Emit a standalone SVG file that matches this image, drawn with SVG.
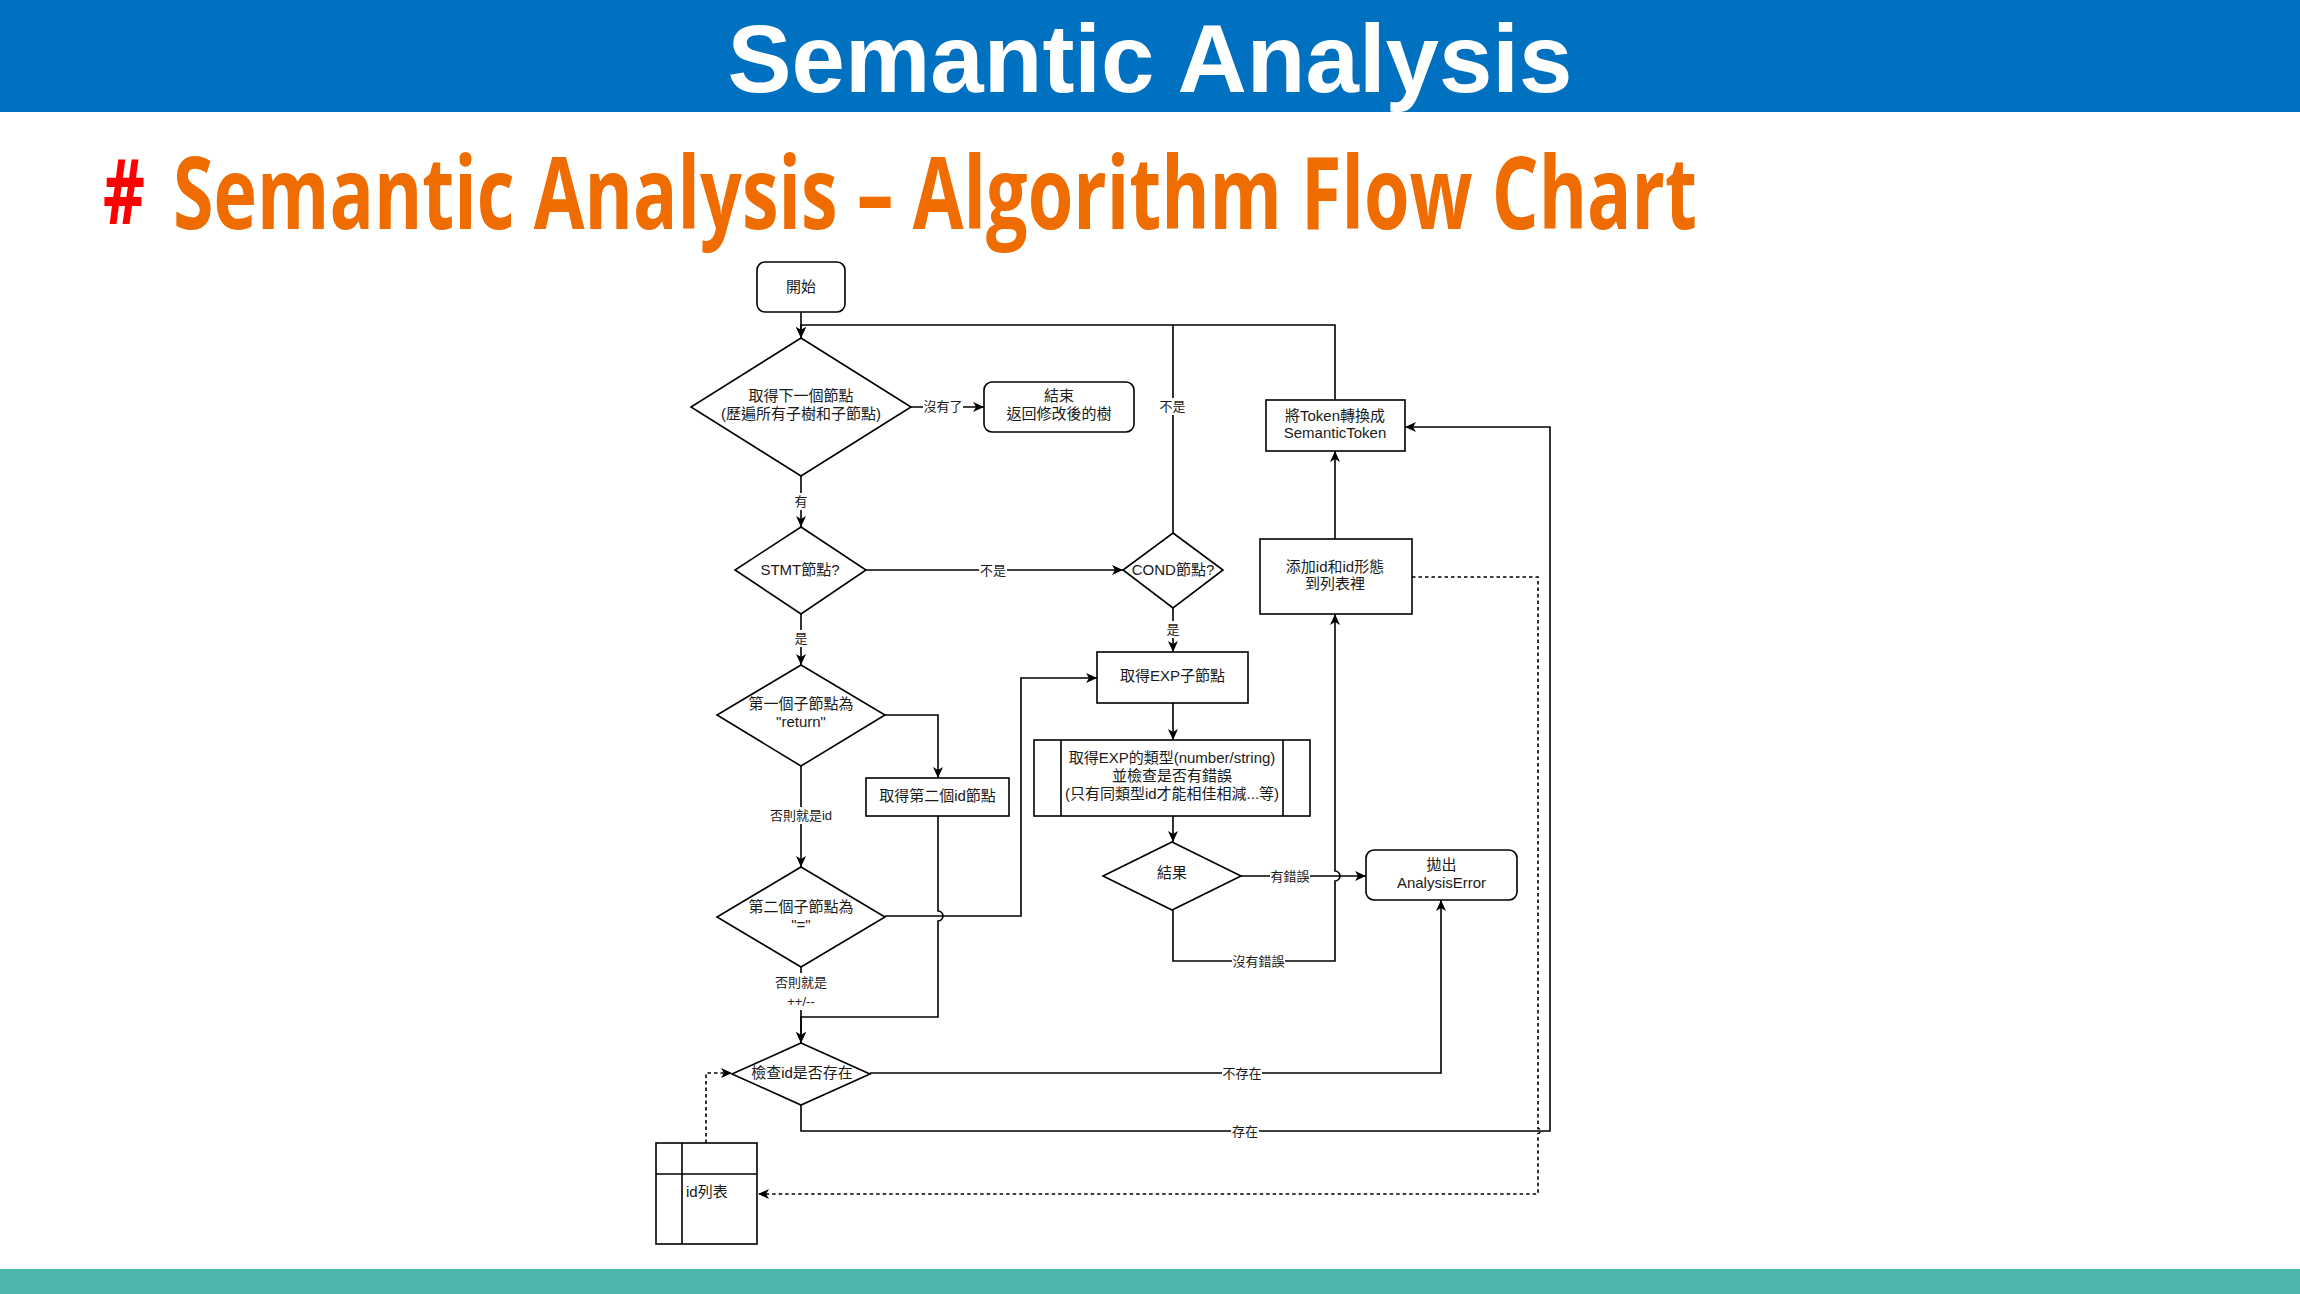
<svg xmlns="http://www.w3.org/2000/svg" width="2300" height="1294" viewBox="0 0 2300 1294">
<style>
.n{fill:#fff;stroke:#000;stroke-width:1.6}
.e{fill:none;stroke:#000;stroke-width:1.6}
.d{stroke-dasharray:3.5 3}
.t{font-family:"Liberation Sans","Noto Sans CJK TC",sans-serif;font-size:15px;text-anchor:middle;fill:#1a1a1a}
.l{font-size:13px}
.bg{fill:#fff}
</style>
<defs>
<marker id="a" markerUnits="userSpaceOnUse" markerWidth="14" markerHeight="12" refX="11" refY="5" orient="auto"><path d="M0,0 L11,5 L0,10 L3,5 Z" fill="#000"/></marker>
</defs>
<rect width="2300" height="1294" fill="#fff"/>
<rect x="0" y="0" width="2300" height="112" fill="#0070c0"/>
<text x="1150" y="92" font-family="Liberation Sans, Arial, sans-serif" font-weight="bold" font-size="96" fill="#fff" text-anchor="middle">Semantic Analysis</text>
<text x="103" y="224" font-family="Open Sans, Liberation Sans, sans-serif" font-weight="bold" font-size="90" fill="#ff0000" textLength="42" lengthAdjust="spacingAndGlyphs">#</text>
<text x="173" y="229" font-family="Open Sans, Liberation Sans, sans-serif" font-weight="bold" font-size="100" fill="#ef6c00" textLength="1524" lengthAdjust="spacingAndGlyphs">Semantic Analysis – Algorithm Flow Chart</text>
<rect x="0" y="1269" width="2300" height="25" fill="#4db6ac"/>

<g id="connectors">
<path class="e" d="M801,312 V338" marker-end="url(#a)"/>
<path class="e" d="M1335,400 V325 H801 V338" marker-end="url(#a)"/>
<path class="e" d="M1173,533 V325"/>
<path class="e" d="M911,407 H984" marker-end="url(#a)"/>
<path class="e" d="M801,476 V527" marker-end="url(#a)"/>
<path class="e" d="M866,570 H1123" marker-end="url(#a)"/>
<path class="e" d="M801,614 V665" marker-end="url(#a)"/>
<path class="e" d="M1173,608 V652" marker-end="url(#a)"/>
<path class="e" d="M885,715 H938 V778" marker-end="url(#a)"/>
<path class="e" d="M801,766 V867" marker-end="url(#a)"/>
<path class="e" d="M885,916 H1021 V678 H1097" marker-end="url(#a)"/>
<path class="e" d="M938,816 V911 A5,5 0 0 1 938,921 V1017 H801 V1043" marker-end="url(#a)"/>
<path class="e" d="M801,967 V1043" marker-end="url(#a)"/>
<path class="e" d="M1173,703 V740" marker-end="url(#a)"/>
<path class="e" d="M1173,816 V842" marker-end="url(#a)"/>
<path class="e" d="M1241,876 H1366" marker-end="url(#a)"/>
<path class="e" d="M1173,910 V961 H1335 V881 A5,5 0 0 0 1335,871 V614" marker-end="url(#a)"/>
<path class="e" d="M1335,539 V451" marker-end="url(#a)"/>
<path class="e" d="M870,1073 H1441 V900" marker-end="url(#a)"/>
<path class="e" d="M801,1105 V1131 H1550 V427 H1405" marker-end="url(#a)"/>
<path class="e d" d="M1412,577 H1538 V1128.5 A2.5,2.5 0 0 1 1538,1133.5 V1194 H758" marker-end="url(#a)"/>
<path class="e d" d="M706,1143 V1073 H732" marker-end="url(#a)"/>
<g class="t l">
<rect class="bg" x="923" y="398" width="40" height="17"/><text x="943" y="410.5">沒有了</text>
<rect class="bg" x="1159" y="398" width="27" height="17"/><text x="1172.5" y="410.5">不是</text>
<rect class="bg" x="794" y="493" width="14" height="17"/><text x="801" y="505.5">有</text>
<rect class="bg" x="979" y="562" width="28" height="17"/><text x="993" y="574.5">不是</text>
<rect class="bg" x="794" y="630" width="14" height="17"/><text x="801" y="642.5">是</text>
<rect class="bg" x="1166" y="621" width="14" height="17"/><text x="1173" y="633.5">是</text>
<rect class="bg" x="769" y="807" width="64" height="17"/><text x="801" y="819.5">否則就是id</text>
<rect class="bg" x="773" y="973" width="56" height="37"/><text x="801" y="986.5">否則就是</text><text x="801" y="1005.5">++/--</text>
<rect class="bg" x="1270" y="868" width="40" height="17"/><text x="1290" y="880.5">有錯誤</text>
<rect class="bg" x="1232" y="953" width="53" height="17"/><text x="1258.5" y="965.5">沒有錯誤</text>
<rect class="bg" x="1222" y="1065" width="40" height="17"/><text x="1242" y="1077.5">不存在</text>
<rect class="bg" x="1231" y="1123" width="28" height="17"/><text x="1245" y="1135.5">存在</text>
</g>
</g>

<g id="start"><rect class="n" x="757" y="262" width="88" height="50" rx="8"/><text class="t" x="801" y="292">開始</text></g>
<g id="getNext"><path class="n" d="M801,338 L911,407 L801,476 L691,407 Z"/><text class="t" x="801" y="401">取得下一個節點</text><text class="t" x="801" y="419">(歷遍所有子樹和子節點)</text></g>
<g id="end"><rect class="n" x="984" y="382" width="150" height="50" rx="8"/><text class="t" x="1059" y="401">結束</text><text class="t" x="1059" y="419">返回修改後的樹</text></g>
<g id="stmt"><path class="n" d="M801,527 L866,570 L801,614 L735,570 Z"/><text class="t" x="800" y="575">STMT節點?</text></g>
<g id="cond"><path class="n" d="M1173,533 L1223,570 L1173,608 L1123,570 Z"/><text class="t" x="1173" y="575">COND節點?</text></g>
<g id="toToken"><rect class="n" x="1266" y="400" width="139" height="51"/><text class="t" x="1335" y="421">將Token轉換成</text><text class="t" x="1335" y="438">SemanticToken</text></g>
<g id="addId"><rect class="n" x="1260" y="539" width="152" height="75"/><text class="t" x="1335" y="572">添加id和id形態</text><text class="t" x="1335" y="589">到列表裡</text></g>
<g id="firstChild"><path class="n" d="M801,665 L885,715 L801,766 L717,715 Z"/><text class="t" x="801" y="709">第一個子節點為</text><text class="t" x="801" y="727">"return"</text></g>
<g id="secondId"><rect class="n" x="866" y="778" width="143" height="38"/><text class="t" x="937.5" y="801">取得第二個id節點</text></g>
<g id="secondChild"><path class="n" d="M801,867 L885,917 L801,967 L717,917 Z"/><text class="t" x="801" y="912">第二個子節點為</text><text class="t" x="801" y="930">"="</text></g>
<g id="getExp"><rect class="n" x="1097" y="652" width="151" height="51"/><text class="t" x="1172.5" y="681">取得EXP子節點</text></g>
<g id="expType"><rect class="n" x="1034" y="740" width="276" height="76"/><path class="e" d="M1061,740 V816 M1283,740 V816"/><text class="t" x="1172" y="763">取得EXP的類型(number/string)</text><text class="t" x="1172" y="781">並檢查是否有錯誤</text><text class="t" x="1172" y="799">(只有同類型id才能相佳相減...等)</text></g>
<g id="result"><path class="n" d="M1172,842 L1241,876 L1172,910 L1103,876 Z"/><text class="t" x="1172" y="878">結果</text></g>
<g id="throwError"><rect class="n" x="1366" y="850" width="151" height="50" rx="8"/><text class="t" x="1441.5" y="870">拋出</text><text class="t" x="1441.5" y="888">AnalysisError</text></g>
<g id="checkId"><path class="n" d="M801,1043 L870,1074 L801,1105 L732,1074 Z"/><text class="t" x="802" y="1078">檢查id是否存在</text></g>
<g id="idList"><rect class="n" x="656" y="1143" width="101" height="101"/><path class="e" d="M656,1174 H757 M682,1143 V1244"/><text class="t" x="686" y="1197" style="text-anchor:start">id列表</text></g>
</svg>
